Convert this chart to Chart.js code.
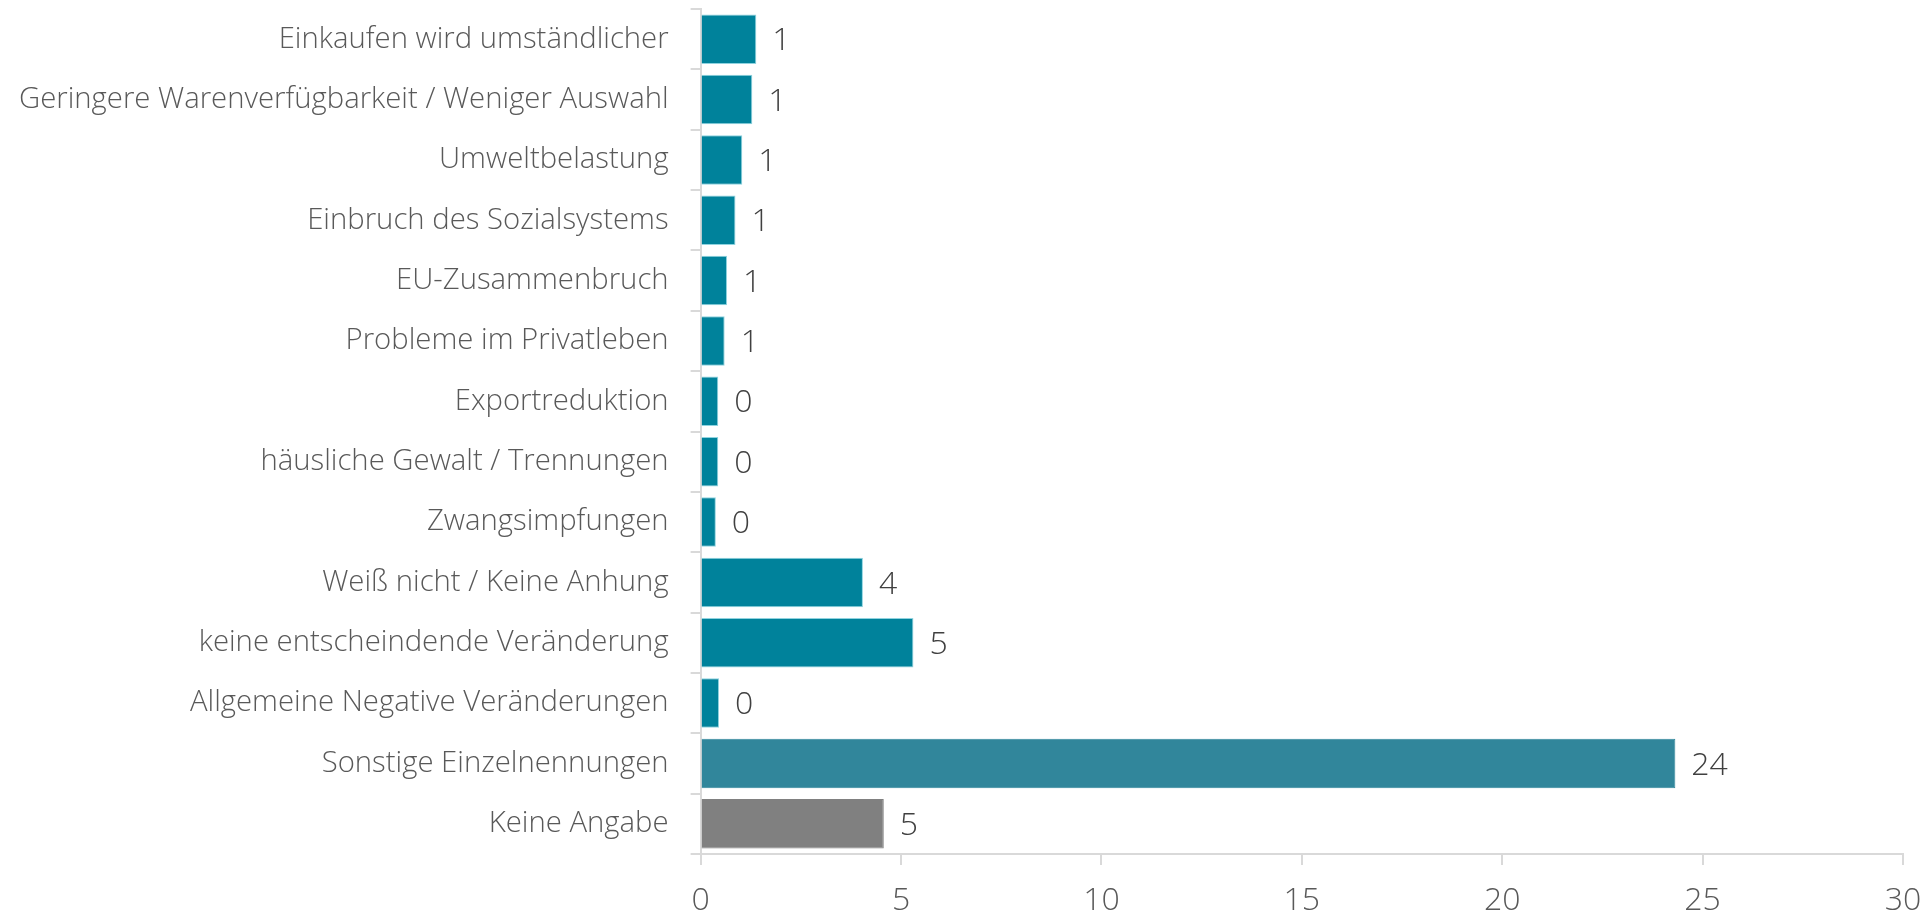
<!DOCTYPE html>
<html>
<head>
<meta charset="utf-8">
<script src="https://cdn.jsdelivr.net/npm/chart.js@4"></script>
<style>
    html, body { margin: 0; padding: 0; background: #fff; }
    #wrap { width: 1929px; height: 917px; }
</style>
</head>
<body>
<div id="wrap"><canvas id="chart" width="1929" height="917"></canvas></div>
<script>
const categorias = [
    'Einkaufen wird umständlicher',
    'Geringere Warenverfügbarkeit / Weniger Auswahl',
    'Umweltbelastung',
    'Einbruch des Sozialsystems',
    'EU-Zusammenbruch',
    'Probleme im Privatleben',
    'Exportreduktion',
    'häusliche Gewalt / Trennungen',
    'Zwangsimpfungen',
    'Weiß nicht / Keine Anhung',
    'keine entscheindende Veränderung',
    'Allgemeine Negative Veränderungen',
    'Sonstige Einzelnennungen',
    'Keine Angabe'
];
const valores = [1.39, 1.29, 1.04, 0.87, 0.66, 0.60, 0.44, 0.44, 0.38, 4.05, 5.31, 0.46, 24.32, 4.57];
const colores = ['#00829b', '#00829b', '#00829b', '#00829b', '#00829b', '#00829b', '#00829b',
    '#00829b', '#00829b', '#00829b', '#00829b', '#00829b', '#31869b', '#808080'];
const bordes = ['#8fd3df', '#8fd3df', '#8fd3df', '#8fd3df', '#8fd3df', '#8fd3df', '#8fd3df',
    '#8fd3df', '#8fd3df', '#8fd3df', '#8fd3df', '#8fd3df', '#31869b', '#808080'];
const ticksX = [0, 5, 10, 15, 20, 25, 30];

const fuente = "'Open Sans', 'Noto Sans', sans-serif";

// etiquetas con el valor redondeado al final de cada barra
const etiquetas = {
    id: 'etiquetas',
    afterDatasetsDraw(chart) {
        const { ctx } = chart;
        const meta = chart.getDatasetMeta(0);
        ctx.save();
        ctx.font = `300 32px ${fuente}`;
        ctx.fillStyle = '#404040';
        ctx.textAlign = 'left';
        ctx.textBaseline = 'middle';
        meta.data.forEach((bar, i) => {
            ctx.fillText(String(Math.round(valores[i])), bar.x + 16, bar.y + 2);
        });
        ctx.restore();
    }
};

new Chart(document.getElementById('chart').getContext('2d'), {
    type: 'bar',
    data: {
        labels: categorias,
        datasets: [{
            data: valores,
            backgroundColor: colores,
            borderColor: bordes,
            borderWidth: 1,
            borderSkipped: 'start',
            barPercentage: 0.82,
            categoryPercentage: 1.0
        }]
    },
    options: {
        indexAxis: 'y',
        responsive: false,
        animation: false,
        layout: { padding: { top: 9, right: 26, left: -3, bottom: 0 } },
        plugins: { legend: { display: false }, tooltip: { enabled: false } },
        scales: {
            x: {
                min: 0,
                max: 30,
                afterBuildTicks: axis => { axis.ticks = ticksX.map(v => ({ value: v })); },
                afterFit: s => { s.height = 63; s.paddingRight = 0; s.paddingLeft = 0; },
                grid: { drawOnChartArea: false, color: '#d9d9d9', lineWidth: 2, tickLength: 11 },
                border: { color: '#d9d9d9', width: 2 },
                ticks: { font: { family: fuente, size: 32, weight: 300 }, color: '#595959', padding: 17 }
            },
            y: {
                afterFit: s => { s.paddingTop = 0; s.paddingBottom = 0; },
                grid: { drawOnChartArea: false, offset: true, color: '#d9d9d9', lineWidth: 2, tickLength: 10 },
                border: { color: '#d9d9d9', width: 2 },
                ticks: { font: { family: fuente, size: 29.3, weight: 300 }, color: '#595959', padding: 22 }
            }
        }
    },
    plugins: [etiquetas]
});
</script>
</body>
</html>
